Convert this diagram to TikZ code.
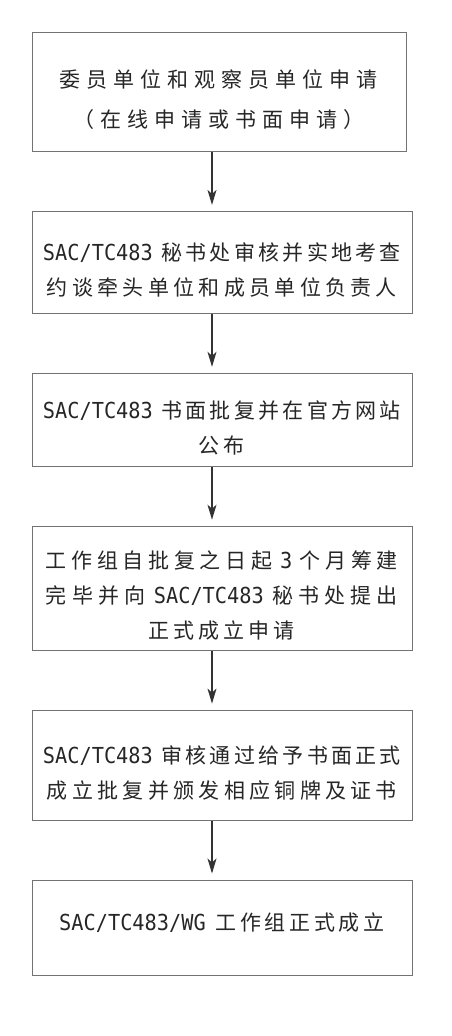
\documentclass[tikz,border=0pt]{standalone}
\usepackage{fontspec}
\usetikzlibrary{positioning,arrows.meta}

\newfontfamily\cjkfont{Noto Sans CJK SC}
\newfontfamily\sacfont{DejaVu Sans Mono}[FakeStretch=0.92,Scale=1.05]
\newlength\rowwd
\setlength\rowwd{358pt}
\lineskiplimit=-40pt
\newcommand\tcname{{\sacfont SAC/TC483\kern5pt}}

\ExplSyntaxOn
% a row spread to the full width
\NewDocumentCommand \fillrow { O{0pt} m }
  { \hbox_to_wd:nn { \rowwd } { \kern #1 \relax \tl_map_inline:nn {#2} { {##1} \hfil } \unskip \kern #1 \relax } }
% a row set at its own width, centred
\NewDocumentCommand \midrow { O{4pt} m }
  { \hbox_to_wd:nn { \rowwd } { \hfil \tl_map_inline:nn {#2} { {##1} \kern #1 \relax } \unkern \hfil } }
\ExplSyntaxOff

\begin{document}
\begin{tikzpicture}[
    box/.style={draw=black!55, line width=0.9pt, text=black!85,
        inner sep=0pt, minimum width=380pt, anchor=north west,
        font=\fontsize{21}{35}\selectfont\cjkfont},
    flow/.style={draw=black!80, line width=1.3pt, shorten >=6pt,
        -{Stealth[length=15pt, width=9pt, inset=4pt]}},
]
\useasboundingbox (0,0) rectangle (452pt,-1036pt);
\coordinate (spine) at (212pt,0);

% application
\node[box, minimum width=374pt, minimum height=119pt,
    font=\fontsize{21}{40}\selectfont\cjkfont]
    (apply) at (31.5pt,-32pt)
    {\vbox{\vskip15pt
        \midrow[6pt]{委员单位和观察员单位申请}
        \midrow[6pt]{（在线申请或书面申请）}}};

% review by secretariat
\node[box, minimum height=102pt, below=59pt of apply.south west,
    anchor=north west] (review)
    {\vbox{\vskip16pt
        \fillrow{\tcname 秘书处审核并实地考查}
        \fillrow[4pt]{约谈牵头单位和成员单位负责人}}};

% written approval
\node[box, minimum height=93pt, below=59pt of review.south west,
    anchor=north west] (approve)
    {\vbox{\vskip16pt
        \fillrow{\tcname 书面批复并在官方网站}
        \midrow{公布}}};

% preparation
\node[box, minimum height=124pt, below=59pt of approve.south west,
    anchor=north west] (prepare)
    {\vbox{\vskip15pt
        \fillrow[3pt]{工作组自批复之日起{\sacfont\kern3pt 3\kern3pt}个月筹建}
        \fillrow[3pt]{完毕并向{\sacfont\kern3pt SAC/TC483\kern3pt}秘书处提出}
        \midrow{正式成立申请}}};

% formal approval
\node[box, minimum height=110pt, below=59pt of prepare.south west,
    anchor=north west] (confirm)
    {\vbox{\vskip16pt
        \fillrow{\tcname 审核通过给予书面正式}
        \fillrow[4pt]{成立批复并颁发相应铜牌及证书}}};

% founded
\node[box, minimum height=95pt, below=59pt of confirm.south west,
    anchor=north west] (found)
    {\vbox{\midrow[3.7pt]{{\sacfont SAC/TC483/WG\kern6pt}工作组正式成立}
        \vskip10pt}};

\foreach \a/\b in {apply/review, review/approve, approve/prepare,
                   prepare/confirm, confirm/found}
    \draw[flow] (\a.south -| spine) -- (\b.north -| spine);

\end{tikzpicture}
\end{document}
